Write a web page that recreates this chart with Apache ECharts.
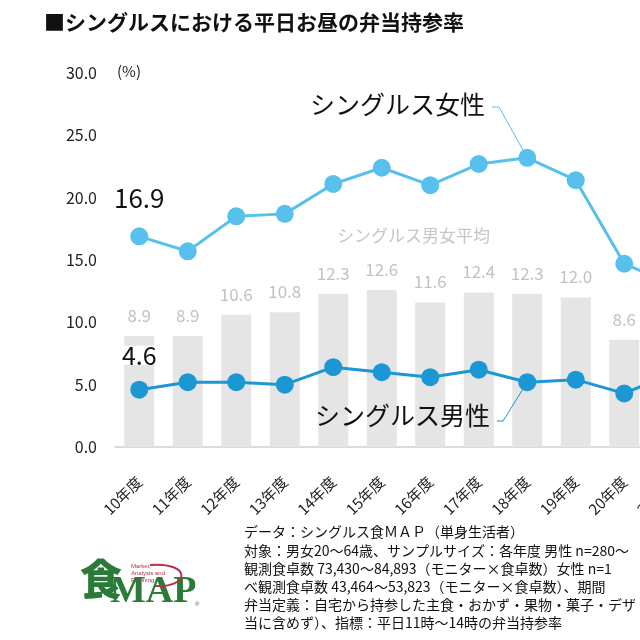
<!doctype html>
<html>
<head>
  <meta charset="UTF-8" />
  <title>シングルスにおける平日お昼の弁当持参率</title>
  <script src="https://cdn.jsdelivr.net/npm/echarts@6/dist/echarts.min.js"></script>
  <style>
    html, body { margin: 0; padding: 0; background: #fff; overflow: hidden; }
    /* the reference is cropped on the right, so the chart runs past the window */
    #chart { width: 700px; height: 640px; }
  </style>
</head>
<body>
  <div id="chart"></div>
  <script>
    const years = ['10年度', '11年度', '12年度', '13年度', '14年度', '15年度', '16年度', '17年度', '18年度', '19年度', '20年度', '21年度'];
    const avgValues = [8.9, 8.9, 10.6, 10.8, 12.3, 12.6, 11.6, 12.4, 12.3, 12.0, 8.6, 9.2];
    const femaleValues = [16.9, 15.7, 18.5, 18.7, 21.1, 22.4, 21.0, 22.7, 23.2, 21.4, 14.7, 13.0];
    const maleValues = [4.6, 5.2, 5.2, 5.0, 6.4, 6.0, 5.6, 6.2, 5.2, 5.4, 4.3, 5.9];
    const yTicks = { min: 0, max: 30, interval: 5 };
    const notes = [
      'データ：シングルス食ＭＡＰ（単身生活者）',
      '対象：男女20～64歳、サンプルサイズ：各年度 男性 n=280～',
      '観測食卓数 73,430～84,893（モニター×食卓数）女性 n=1',
      'べ観測食卓数 43,464～53,823（モニター×食卓数）、期間',
      '弁当定義：自宅から持参した主食・おかず・果物・菓子・デザ',
      '当に含めず）、指標：平日11時～14時の弁当持参率'
    ];

    const font = '"Noto Sans CJK JP", "Noto Sans", sans-serif';
    const femaleColor = '#58c0ec';
    const maleColor = '#1b97d4';

    const chart = echarts.init(document.getElementById('chart'));

    const option = {
      backgroundColor: '#fff',
      animation: false,
      textStyle: { fontFamily: font },
      grid: { left: 115, top: 73, right: 3, bottom: 193, containLabel: false },
      xAxis: {
        type: 'category',
        data: years,
        axisLine: { lineStyle: { color: '#cfcfcf', width: 1.5 } },
        axisTick: { show: false },
        axisLabel: { rotate: 45, interval: 0, margin: 32, fontSize: 15, color: '#222', fontFamily: font }
      },
      yAxis: {
        type: 'value',
        min: yTicks.min, max: yTicks.max, interval: yTicks.interval,
        axisLine: { show: false },
        axisTick: { show: false },
        splitLine: { show: false },
        axisLabel: {
          margin: 18, fontSize: 16, color: '#222', fontFamily: font,
          formatter: v => v.toFixed(1)
        }
      },
      series: [
        {
          name: 'シングルス男女平均',
          type: 'bar',
          data: avgValues,
          barWidth: 30,
          itemStyle: { color: '#e5e5e5' },
          label: {
            show: true, position: 'top', distance: 12,
            fontSize: 17, color: '#c2c2c2', fontFamily: font,
            formatter: p => p.value.toFixed(1)
          },
          z: 1
        },
        {
          name: 'シングルス男性',
          type: 'line',
          data: maleValues.map((v, i) => i === 0 ? {
            value: v,
            label: {
              show: true, position: 'top', distance: 16,
              fontSize: 25, lineHeight: 19, color: '#111', fontFamily: font,
              backgroundColor: '#fff', padding: [0, 3]
            }
          } : v),
          symbol: 'circle',
          symbolSize: 18,
          lineStyle: { color: maleColor, width: 3 },
          itemStyle: { color: maleColor },
          z: 3
        },
        {
          name: 'シングルス女性',
          type: 'line',
          data: femaleValues.map((v, i) => i === 0 ? {
            value: v,
            label: {
              show: true, position: 'top', distance: 16,
              fontSize: 26, color: '#111', fontFamily: font
            }
          } : v),
          symbol: 'circle',
          symbolSize: 18,
          lineStyle: { color: femaleColor, width: 3 },
          itemStyle: { color: femaleColor },
          z: 3
        }
      ]
    };
    chart.setOption(option);

    // leader lines point at 18年度
    const pick = 8;
    const fPt = chart.convertToPixel({ seriesIndex: 2 }, [pick, femaleValues[pick]]);
    const mPt = chart.convertToPixel({ seriesIndex: 1 }, [pick, maleValues[pick]]);

    const graphic = [
      {
        type: 'text', left: 44, top: 12,
        style: { text: '■シングルスにおける平日お昼の弁当持参率', font: 'bold 21px ' + font, fill: '#111' }
      },
      {
        type: 'text', left: 117, top: 64,
        style: { text: '(%)', font: '15px ' + font, fill: '#222' }
      },
      {
        type: 'text', left: 310, top: 92, z: 10,
        style: { text: 'シングルス女性', font: '25px ' + font, fill: '#111' }
      },
      {
        type: 'text', left: 315, top: 403, z: 10,
        style: { text: 'シングルス男性', font: '25px ' + font, fill: '#111' }
      },
      {
        type: 'text', left: 337, top: 227,
        style: { text: 'シングルス男女平均', font: '17px ' + font, fill: '#c6c6c6' }
      },
      {
        type: 'polyline', z: 5,
        shape: { points: [[492, 107], [499, 107], [fPt[0], fPt[1]]] },
        style: { stroke: femaleColor, lineWidth: 1, fill: null }
      },
      {
        type: 'polyline', z: 5,
        shape: { points: [[497, 421], [503, 421], [mPt[0], mPt[1]]] },
        style: { stroke: maleColor, lineWidth: 1, fill: null }
      },
      // logo
      {
        type: 'text', left: 80, top: 558,
        style: { text: '食', font: '900 42px ' + font, fill: '#2a7a38' }
      },
      {
        type: 'text', left: 110, top: 573,
        style: { text: 'MAP', font: 'bold 38px "Liberation Serif", serif', fill: '#2a7a38' }
      },
      {
        type: 'text', left: 131, top: 563,
        style: { text: 'Market\nAnalysis and\nPlanning', font: '6px Arial, sans-serif', fill: '#b8324a', lineHeight: 7 }
      },
      {
        type: 'bezierCurve',
        shape: { x1: 150, y1: 565, cpx1: 192, cpy1: 562, cpx2: 190, cpy2: 588, x2: 155, y2: 586 },
        style: { stroke: '#b8324a', lineWidth: 2, fill: null }
      },
      {
        type: 'text', left: 195, top: 601,
        style: { text: '®', font: '6px Arial, sans-serif', fill: '#2a7a38' }
      }
    ];
    notes.forEach((t, i) => {
      graphic.push({
        type: 'text', left: 244, top: 525 + i * 18.2,
        style: { text: t, font: '14px ' + font, fill: '#111' }
      });
    });
    chart.setOption({ graphic });
  </script>
</body>
</html>
